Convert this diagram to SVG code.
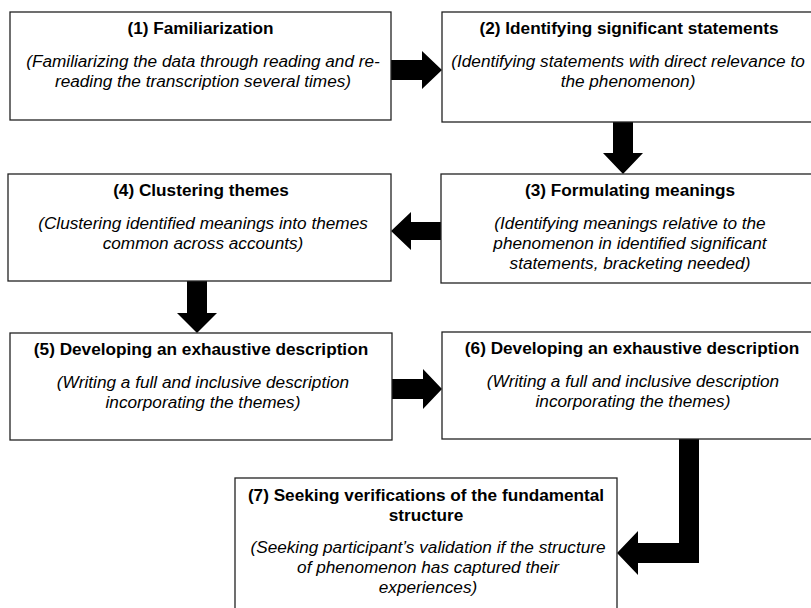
<svg xmlns="http://www.w3.org/2000/svg" width="811" height="608" viewBox="0 0 811 608">
<style>
.box{fill:#fff;stroke:#222;stroke-width:1.3}
.t{font-family:"Liberation Sans",Arial,sans-serif;font-size:17.2px;font-weight:bold;fill:#000;text-anchor:middle}
.d{font-family:"Liberation Sans",Arial,sans-serif;font-size:17.2px;font-style:italic;fill:#000;text-anchor:middle}
.arr{fill:#000;stroke:none}
</style>
<rect width="811" height="608" fill="#fff"/>
<g id="connectors">
<polygon class="arr" points="391,60 422,60 422,51 442,70 422,89 422,80 391,80"/>
<polygon class="arr" points="613,122 633,122 633,153 643,153 623,174 603,153 613,153"/>
<polygon class="arr" points="441,222 411,222 411,212 391,231 411,250 411,240 441,240"/>
<polygon class="arr" points="187,281 207,281 207,313 217,313 197,333 177,313 187,313"/>
<polygon class="arr" points="392,379 423,379 423,369 442,389 423,409 423,399 392,399"/>
<polygon class="arr" points="679,439 699,439 699,563 638,563 638,575 617,553 638,531 638,543 679,543"/>
</g>
<g id="node1">
<rect class="box" x="10" y="12" width="381" height="108"/>
<text class="t" x="200.5" y="34">(1) Familiarization</text>
<text class="d" x="203" y="67">(Familiarizing the data through reading and re-</text>
<text class="d" x="203" y="87">reading the transcription several times)</text>
</g>
<g id="node2">
<rect class="box" x="442" y="12" width="375" height="110"/>
<text class="t" x="629" y="34">(2) Identifying significant statements</text>
<text class="d" x="628" y="67">(Identifying statements with direct relevance to</text>
<text class="d" x="628" y="87">the phenomenon)</text>
</g>
<g id="node3">
<rect class="box" x="441" y="174" width="376" height="109"/>
<text class="t" x="630" y="196">(3) Formulating meanings</text>
<text class="d" x="630" y="229">(Identifying meanings relative to the</text>
<text class="d" x="630" y="249">phenomenon in identified significant</text>
<text class="d" x="630" y="269">statements, bracketing needed)</text>
</g>
<g id="node4">
<rect class="box" x="8" y="174" width="383" height="107"/>
<text class="t" x="201" y="196">(4) Clustering themes</text>
<text class="d" x="203" y="229">(Clustering identified meanings into themes</text>
<text class="d" x="203" y="249">common across accounts)</text>
</g>
<g id="node5">
<rect class="box" x="10" y="333" width="382" height="107"/>
<text class="t" x="201" y="355">(5) Developing an exhaustive description</text>
<text class="d" x="203" y="388">(Writing a full and inclusive description</text>
<text class="d" x="203" y="408">incorporating the themes)</text>
</g>
<g id="node6">
<rect class="box" x="442" y="332" width="375" height="107"/>
<text class="t" x="632" y="354">(6) Developing an exhaustive description</text>
<text class="d" x="633" y="387">(Writing a full and inclusive description</text>
<text class="d" x="633" y="407">incorporating the themes)</text>
</g>
<g id="node7">
<rect class="box" x="235" y="478" width="382" height="140"/>
<text class="t" x="426" y="501">(7) Seeking verifications of the fundamental</text>
<text class="t" x="426" y="521">structure</text>
<text class="d" x="428" y="553">(Seeking participant’s validation if the structure</text>
<text class="d" x="428" y="573">of phenomenon has captured their</text>
<text class="d" x="428" y="593">experiences)</text>
</g>
</svg>
